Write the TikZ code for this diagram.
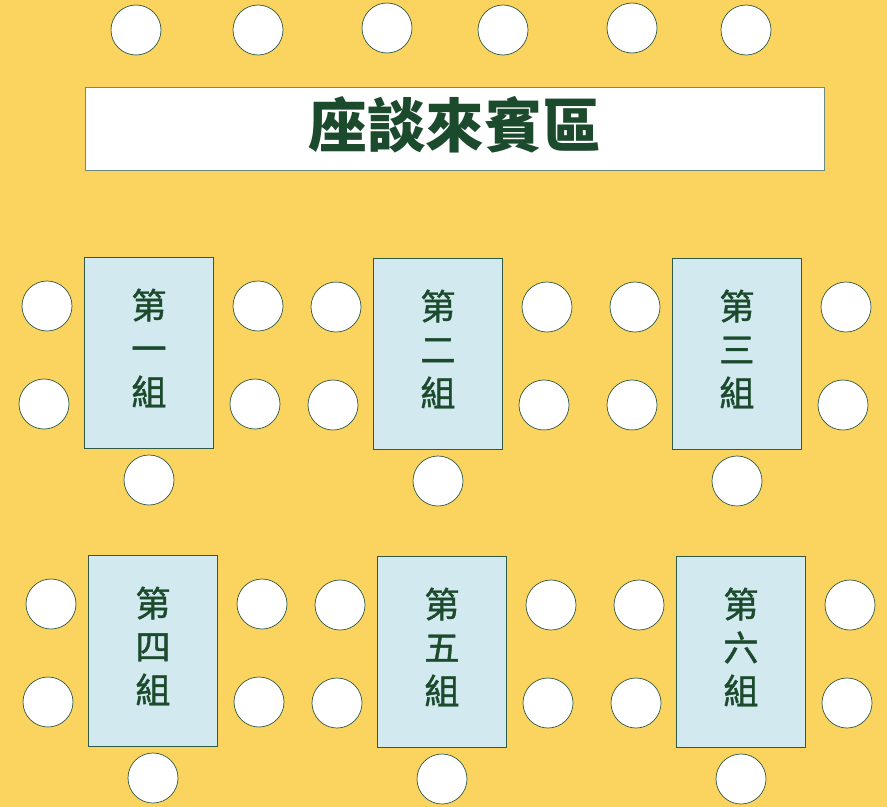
\documentclass[tikz,border=0pt]{standalone}
\usepackage{fontspec}
\newfontfamily\cjk{Noto Sans CJK TC}
\newfontfamily\cjkmid{Noto Sans CJK TC}[FakeBold=1.2]
\usepackage{xcolor}
\usepackage{tikz}
\usetikzlibrary{positioning}

\definecolor{floor}{HTML}{FBD35F}
\definecolor{deskblue}{HTML}{D2E9EF}
\definecolor{inkgreen}{HTML}{1B4A2C}
\definecolor{edgegreen}{HTML}{2F5A45}

\begin{document}
\begin{tikzpicture}[
  x=0.03cm, y=-0.03cm,
  chair/.style={circle, draw=edgegreen, fill=white, line width=0.6pt, minimum size=1.5cm, inner sep=0pt},
  desk/.style={draw=edgegreen, fill=deskblue, line width=0.8pt, minimum width=3.87cm, minimum height=5.73cm,
    anchor=north west},
  desklabel/.style={label distance=0pt, yshift=0.15cm, align=center, text=inkgreen,
    font=\cjkmid\fontsize{30}{37}\selectfont},
  banner/.style={draw=edgegreen!70, fill=white, line width=0.7pt, minimum width=22.17cm, minimum height=2.49cm,
    anchor=north west},
  bannerlabel/.style={label distance=0pt, yshift=0.12cm, text=inkgreen,
    font=\cjk\bfseries\fontsize{50}{60}\selectfont},
]

% --- Floor (fixes the page size)
\fill[floor] (0,0) rectangle (887,807);
\useasboundingbox (0,0) rectangle (887,807);

% --- Guest chairs along the top wall
\foreach \cx/\cy [count=\i] in {136/30, 258/30, 387/28, 503/30, 632/28, 746/30}
  \node[chair] (guest\i) at (\cx,\cy) {};

% --- Guest area banner
\node[banner, label={[bannerlabel]center:座談來賓區}] (guests) at (85,87) {};

% --- Group tables, each with five chairs
\foreach \g/\lx/\ty/\num in {1/84/257/一, 2/373/258/二, 3/672/258/三,
                             4/88/555/四, 5/377/556/五, 6/676/556/六} {
  \node[desk, label={[desklabel]center:{第\\\num\\組}}] (desk\g) at (\lx,\ty) {};
  \node[chair] (desk\g lt) at ([shift={(-37,49)}]desk\g.north west) {};
  \node[chair] (desk\g lb) at ([shift={(-40,147)}]desk\g.north west) {};
  \node[chair] (desk\g rt) at ([shift={(174,49)}]desk\g.north west) {};
  \node[chair] (desk\g rb) at ([shift={(171,147)}]desk\g.north west) {};
  \node[chair] (desk\g b)  at ([shift={(65,223)}]desk\g.north west) {};
}

\end{tikzpicture}
\end{document}
